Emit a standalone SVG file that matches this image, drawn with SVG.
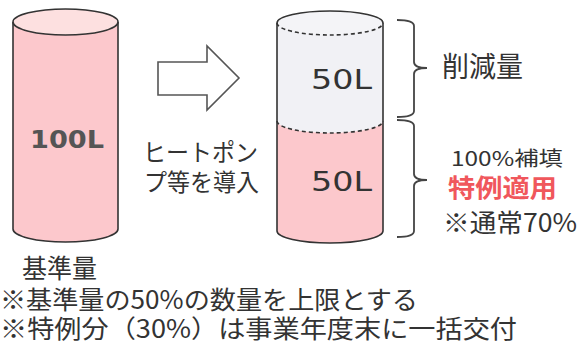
<svg xmlns="http://www.w3.org/2000/svg" width="581" height="356" viewBox="0 0 581 356">
<style>
.ol{stroke:#333;stroke-width:1.6;fill:none}
.dash{stroke:#333;stroke-width:1.6;fill:none;stroke-dasharray:4 3}
.pink{fill:#fcc8cc}
.t{font-family:"Noto Sans CJK JP","Noto Sans",sans-serif;fill:#333}
.num{font-family:"DejaVu Sans","Noto Sans CJK JP",sans-serif;fill:#333}
.brace{stroke:#444;stroke-width:1.8;fill:none}
</style>
<rect width="581" height="356" fill="#fff"/>
<g id="base-cylinder">
  <path class="pink" d="M13,22 L13,229 A52.5,13 0 0 0 118,229 L118,22 Z"/>
  <path class="ol" d="M13,22 L13,229 A52.5,13 0 0 0 118,229 L118,22"/>
  <ellipse cx="65.5" cy="22" rx="52.5" ry="13" fill="#fde0e0" stroke="#333" stroke-width="1.6"/>
  <text class="num" x="30" y="148" font-size="24" font-weight="bold" style="fill:#555" textLength="74" lengthAdjust="spacingAndGlyphs">100L</text>
</g>
<g id="arrow">
  <polygon points="158,62 207,62 207,46 239,78 207,110 207,95 158,95" fill="#fff" stroke="#555" stroke-width="1.6" stroke-linejoin="miter"/>
  <text class="t" x="143" y="161" font-size="24" textLength="115" lengthAdjust="spacingAndGlyphs">ヒートポン</text>
  <text class="t" x="144" y="191" font-size="24" textLength="115" lengthAdjust="spacingAndGlyphs">プ等を導入</text>
</g>
<g id="after-cylinder">
  <path d="M277,23 L277,121 A53,12 0 0 0 383,121 L383,23 Z" fill="#f1f1f5"/>
  <ellipse cx="330" cy="23" rx="53" ry="12" fill="#f4f4f7"/>
  <path class="pink" d="M277,121 A53,12 0 0 0 383,121 L383,231 A53,12 0 0 1 277,231 Z"/>
  <path class="ol" d="M277,23 A53,12 0 0 1 383,23"/>
  <path class="dash" d="M277,23 A53,12 0 0 0 383,23"/>
  <path class="dash" d="M277,121 A53,12 0 0 0 383,121"/>
  <path class="ol" d="M277,23 L277,231 A53,12 0 0 0 383,231 L383,23"/>
  <text class="num" x="311" y="89" font-size="26" textLength="61" lengthAdjust="spacingAndGlyphs">50L</text>
  <text class="num" x="311" y="191" font-size="26" textLength="61" lengthAdjust="spacingAndGlyphs">50L</text>
</g>
<g id="connectors">
  <path class="brace" d="M397,20 Q414,20 414,26 L414,62 Q414,68 427,68 Q414,68 414,74 L414,111 Q414,117 397,117"/>
  <path class="brace" d="M397,120 Q414,120 414,126 L414,174 Q414,180 427,180 Q414,180 414,186 L414,231 Q414,237 397,237"/>
</g>
<g id="reduction-label">
  <text class="t" x="442" y="77" font-size="28" textLength="81" lengthAdjust="spacingAndGlyphs">削減量</text>
</g>
<g id="compensation-label">
  <text class="t" x="451" y="166" font-size="20" textLength="112" lengthAdjust="spacingAndGlyphs">100%補填</text>
  <text class="t" x="448" y="197" font-size="25" font-weight="bold" style="fill:#f0575c" textLength="109" lengthAdjust="spacingAndGlyphs">特例適用</text>
  <text class="t" x="443" y="232" font-size="25" textLength="134" lengthAdjust="spacingAndGlyphs">※通常70%</text>
</g>
<g id="notes">
  <text class="t" x="22" y="278" font-size="26" textLength="75" lengthAdjust="spacingAndGlyphs">基準量</text>
  <text class="t" x="0" y="309" font-size="25" textLength="418" lengthAdjust="spacingAndGlyphs">※基準量の50%の数量を上限とする</text>
  <text class="t" x="0" y="338" font-size="25" textLength="517" lengthAdjust="spacingAndGlyphs">※特例分（30%）は事業年度末に一括交付</text>
</g>
</svg>
